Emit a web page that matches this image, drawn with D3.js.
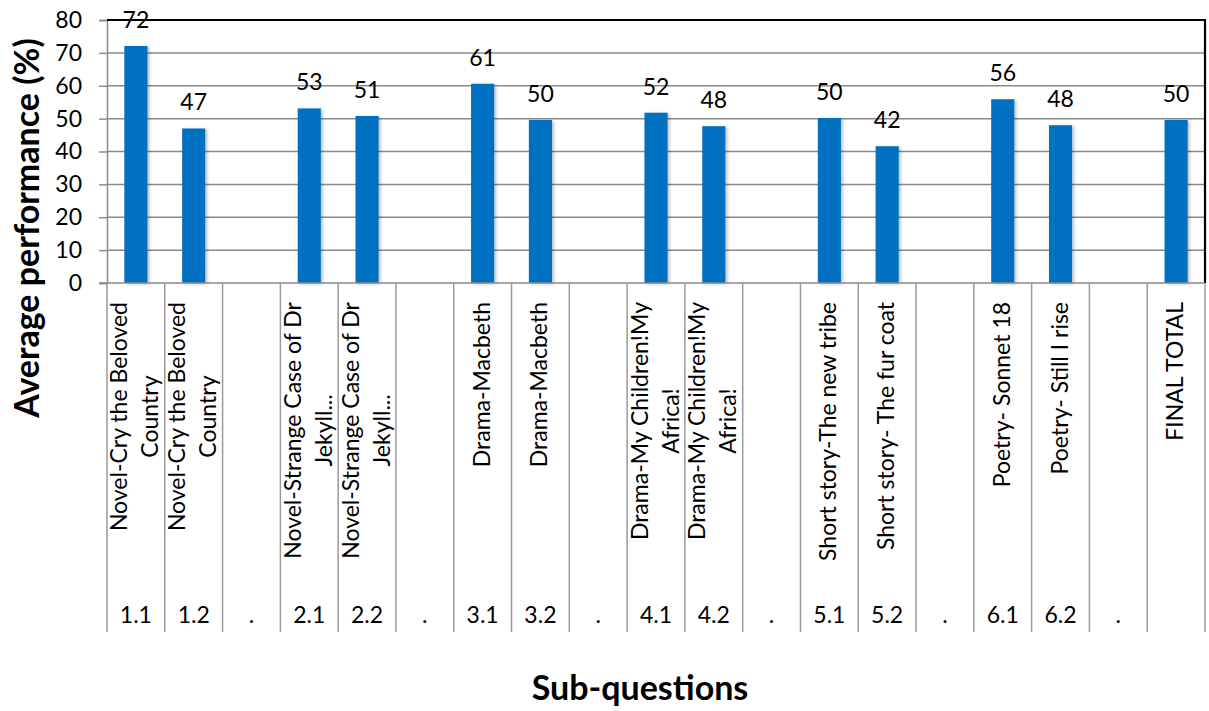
<!DOCTYPE html>
<html><head><meta charset="utf-8">
<script src="https://cdn.jsdelivr.net/npm/d3@7"></script>
<style>body{margin:0;background:#fff}svg{display:block}text{font-family:Lato,"Open Sans",sans-serif;fill:#000}</style>
</head><body>
<svg id="c" width="1209" height="711"></svg>
<script>
// ---- data ----
const codes = ["1.1","1.2",".","2.1","2.2",".","3.1","3.2",".","4.1","4.2",".","5.1","5.2",".","6.1","6.2",".",""];
const labels = [
  "Novel-Cry the Beloved\nCountry","Novel-Cry the Beloved\nCountry","",
  "Novel-Strange Case of Dr\nJekyll...","Novel-Strange Case of Dr\nJekyll...","",
  "Drama-Macbeth","Drama-Macbeth","",
  "Drama-My Children!My\nAfrica!","Drama-My Children!My\nAfrica!","",
  "Short story-The new tribe","Short story- The fur coat","",
  "Poetry- Sonnet 18","Poetry- Still I rise","",
  "FINAL TOTAL"];
const values = [72.1,47.0,null,53.1,50.8,null,60.6,49.6,null,51.8,47.7,null,50.2,41.6,null,55.9,48.0,null,49.6];
const yTicks = [0,10,20,30,40,50,60,70,80];
const yTitle = "Average performance (%)";
const xTitle = "Sub-questions";

const svg = d3.select("#c");
const L=107,R=1205,T=20,B=283,AXB=632;
const x = d3.scaleBand().domain(d3.range(codes.length)).range([L,R]);
const y = d3.scaleLinear().domain([0,80]).range([B,T]);
const bw = x.bandwidth();
const grid="#8a8a8a";

// gridlines
svg.append("g").selectAll("line").data(yTicks.filter(t=>t>0&&t<80)).join("line")
  .attr("x1",L).attr("x2",R).attr("y1",d=>y(d)).attr("y2",d=>y(d))
  .attr("stroke",grid).attr("stroke-width",1.5);

// defs shadow
const defs=svg.append("defs");
const f=defs.append("filter").attr("id","sh").attr("x","-20%").attr("y","-5%").attr("width","150%").attr("height","110%");
f.append("feDropShadow").attr("dx",2).attr("dy",1).attr("stdDeviation",1.5).attr("flood-color","#000").attr("flood-opacity",0.25);

// bars
const idx = d3.range(values.length).filter(i=>values[i]!=null);
svg.append("g").selectAll("rect").data(idx).join("rect")
  .attr("x",i=>x(i)+bw*0.3).attr("width",bw*0.4)
  .attr("y",i=>y(values[i])).attr("height",i=>B-y(values[i]))
  .attr("fill","#0070C0").attr("filter","url(#sh)");

// value labels
svg.append("g").selectAll("text").data(idx).join("text")
  .attr("x",i=>x(i)+bw/2).attr("y",i=>y(values[i])-18)
  .attr("text-anchor","middle").attr("font-size",23)
  .text(i=>d3.format(".0f")(values[i]));

// y axis
const yAxis = d3.axisLeft(y).tickValues(yTicks).tickSize(8).tickPadding(17);
const gy = svg.append("g").attr("transform",`translate(${L},0)`).call(yAxis);
gy.select(".domain").attr("stroke",grid).attr("stroke-width",1.5);
gy.selectAll(".tick line").attr("stroke",grid).attr("stroke-width",1.5);
gy.selectAll(".tick text").attr("font-size",23).attr("font-family","Lato").attr("fill","#000");

// plot border top/right
svg.append("path").attr("d",`M${L},${T}H${R}V${B}`).attr("fill","none").attr("stroke","#000").attr("stroke-width",2.2);
// bottom axis
svg.append("line").attr("x1",L-8).attr("x2",R).attr("y1",B).attr("y2",B).attr("stroke",grid).attr("stroke-width",1.5);

// category separators
svg.append("g").selectAll("line").data(d3.range(codes.length+1)).join("line")
  .attr("x1",i=>i<codes.length?x(i):R).attr("x2",i=>i<codes.length?x(i):R)
  .attr("y1",B).attr("y2",AXB).attr("stroke","#9a9a9a").attr("stroke-width",1.5);

// category labels (rotated)
const catFs=23, pitch=31, topY=302;
const gl = svg.append("g");
labels.forEach((lab,i)=>{
  if(!lab) return;
  const lines=lab.split("\n");
  const cx=x(i)+bw/2;
  const tmp=gl.append("text").attr("font-size",catFs);
  const lens=lines.map(s=>{tmp.text(s);return tmp.node().getComputedTextLength();});
  tmp.remove();
  const Lmax=d3.max(lens);
  const cy=topY+Lmax/2;
  lines.forEach((s,k)=>{
    const bx=cx+(k-(lines.length-1)/2)*pitch+7;
    gl.append("text").attr("font-size",catFs).attr("text-anchor","middle")
      .attr("transform",`translate(${bx},${cy}) rotate(-90)`).text(s);
  });
});

// codes
svg.append("g").selectAll("text").data(d3.range(codes.length)).join("text")
  .attr("x",i=>x(i)+bw/2).attr("y",623).attr("text-anchor","middle").attr("font-size",23)
  .text(i=>codes[i]);

// titles
svg.append("text").attr("transform","translate(39,228) rotate(-90)").attr("text-anchor","middle")
  .attr("font-size",34).attr("font-weight","bold").text(yTitle);
svg.append("text").attr("x",640).attr("y",700).attr("text-anchor","middle")
  .attr("font-size",34).attr("font-weight","bold").text(xTitle);
</script>
</body></html>
